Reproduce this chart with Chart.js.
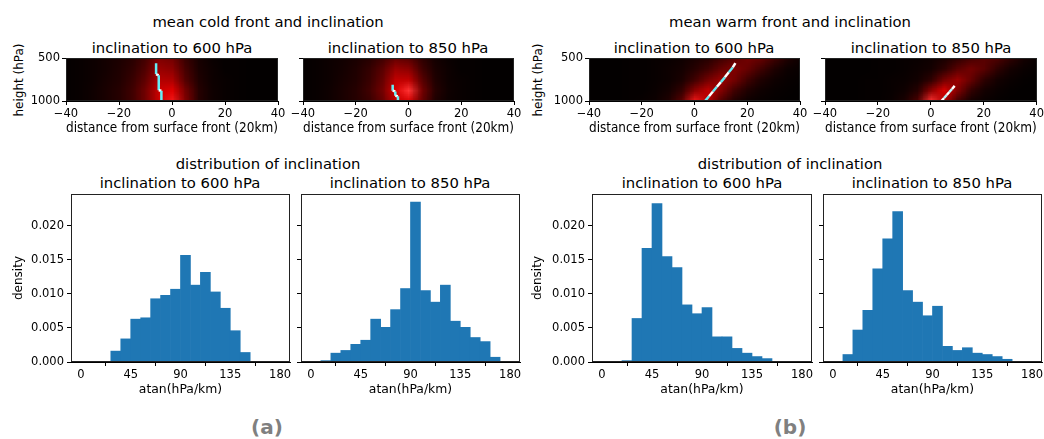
<!DOCTYPE html>
<html>
<head>
<meta charset="utf-8">
<script src="https://cdn.jsdelivr.net/npm/chart.js@4.4.0/dist/chart.umd.min.js"></script>
<style>
html, body { margin: 0; padding: 0; background: #fff; overflow: hidden; }
#fig { position: relative; width: 1044px; height: 439px; font-family: 'DejaVu Sans', sans-serif; color: #000; }
.t { position: absolute; white-space: nowrap; font-size: 14.8px; line-height: 1; transform: translate(-50%, -50%); }
.yl { position: absolute; white-space: nowrap; font-size: 12px; line-height: 1; transform: translate(-50%, -50%) rotate(-90deg); }
.lab { position: absolute; white-space: nowrap; font-size: 20px; font-weight: bold; color: #808080; line-height: 1; transform: translate(-50%, -50%); }
canvas { position: absolute; }
</style>
</head>
<body>
<div id="fig">
  <div class="t" style="left:268px;top:22px">mean cold front and inclination</div>
  <div class="t" style="left:790px;top:22px">mean warm front and inclination</div>
  <div class="t" style="left:172px;top:48px">inclination to 600 hPa</div>
  <div class="t" style="left:408px;top:48px">inclination to 850 hPa</div>
  <div class="t" style="left:694px;top:48px">inclination to 600 hPa</div>
  <div class="t" style="left:931px;top:48px">inclination to 850 hPa</div>
  <div class="yl" style="left:19px;top:80px">height (hPa)</div>
  <div class="yl" style="left:538px;top:80px">height (hPa)</div>
  <div class="t" style="left:268px;top:164px">distribution of inclination</div>
  <div class="t" style="left:790px;top:164px">distribution of inclination</div>
  <div class="t" style="left:180px;top:183px">inclination to 600 hPa</div>
  <div class="t" style="left:410px;top:183px">inclination to 850 hPa</div>
  <div class="t" style="left:702px;top:183px">inclination to 600 hPa</div>
  <div class="t" style="left:932px;top:183px">inclination to 850 hPa</div>
  <div class="lab" style="left:267px;top:427px">(a)</div>
  <div class="lab" style="left:790px;top:427px">(b)</div>
</div>
<script>
// histogram bins (atan(hPa/km), bin width 9 deg)
const binCenters = [4.5, 13.5, 22.5, 31.5, 40.5, 49.5, 58.5, 67.5, 76.5, 85.5,
                    94.5, 103.5, 112.5, 121.5, 130.5, 139.5, 148.5, 157.5, 166.5, 175.5];
const histTicks = [0, 45, 90, 135, 180];
const densTicks = [0, 0.005, 0.010, 0.015, 0.020];

const cold600 = [0.00005, 0.00005, 0.0001, 0.0016, 0.0034, 0.0063, 0.0065, 0.0093, 0.0098, 0.0107,
                 0.0157, 0.0113, 0.0132, 0.0103, 0.0079, 0.0046, 0.0014, 0.0001, 0.00005, 0.00005];
const cold850 = [0.00005, 0.0002, 0.0013, 0.0017, 0.0026, 0.0032, 0.0063, 0.0051, 0.0077, 0.0108,
                 0.0235, 0.0105, 0.0088, 0.0113, 0.0060, 0.0051, 0.0036, 0.0030, 0.0007, 0.00005];
const warm600 = [0, 0.00005, 0.0002, 0.0064, 0.0167, 0.0233, 0.0155, 0.0139, 0.0084, 0.0071,
                 0.0080, 0.0037, 0.0037, 0.0020, 0.0013, 0.0008, 0.0005, 0.0001, 0.00005, 0];
const warm850 = [0, 0.0011, 0.0047, 0.0076, 0.0137, 0.0181, 0.0221, 0.0105, 0.0088, 0.0068,
                 0.0082, 0.0023, 0.0017, 0.0021, 0.0013, 0.0011, 0.0008, 0.0004, 0.0001, 0];

// mean front composites: distance (20km) x height (hPa), relative intensity
const gridX = [-40, -35, -30, -25, -20, -15, -10, -5, 0, 5, 10, 15, 20, 25, 30, 35, 40];
const gridP = [500, 625, 750, 875, 1000];
const distTicks = [-40, -20, 0, 20, 40];
const hTicks = [500, 1000];

const coldMean600 = [
  [.02, .03, .05, .08, .11, .16, .27, .50, .45, .22, .09, .04, .02, .02, .01, .01, .01],
  [.02, .03, .05, .08, .12, .19, .32, .60, .55, .27, .10, .05, .02, .02, .01, .01, .01],
  [.02, .03, .05, .09, .13, .22, .38, .70, .68, .32, .12, .05, .03, .02, .01, .01, .01],
  [.02, .03, .06, .10, .15, .25, .45, .80, .88, .45, .15, .06, .03, .02, .01, .01, .01],
  [.02, .03, .06, .10, .15, .25, .45, .80, .95, .50, .15, .06, .03, .02, .01, .01, .01]];
const coldMean850 = [
  [.02, .03, .05, .07, .10, .15, .25, .40, .35, .18, .08, .04, .02, .02, .01, .01, .01],
  [.02, .03, .05, .08, .12, .20, .35, .60, .55, .25, .10, .05, .02, .02, .01, .01, .01],
  [.02, .03, .05, .09, .13, .22, .40, .75, .75, .35, .12, .05, .03, .02, .01, .01, .01],
  [.02, .03, .06, .10, .15, .25, .45, .85, 1.0, .45, .15, .06, .03, .02, .01, .01, .01],
  [.02, .03, .06, .10, .15, .22, .40, .75, .85, .40, .12, .05, .03, .02, .01, .01, .01]];
const warmMean600 = [
  [.01, .01, .01, .02, .02, .03, .04, .06, .10, .15, .25, .35, .45, .40, .25, .12, .05],
  [.01, .01, .01, .02, .02, .03, .05, .08, .15, .25, .40, .50, .40, .25, .12, .05, .03],
  [.01, .01, .01, .02, .02, .03, .05, .10, .25, .45, .60, .45, .25, .12, .06, .03, .02],
  [.01, .01, .01, .02, .02, .04, .08, .20, .55, .75, .50, .25, .12, .06, .03, .02, .01],
  [.01, .01, .01, .02, .03, .05, .12, .35, .95, .70, .30, .12, .05, .03, .02, .01, .01]];
const warmMean850 = [
  [.01, .01, .01, .01, .02, .02, .03, .04, .06, .10, .18, .28, .35, .30, .18, .08, .03],
  [.01, .01, .01, .01, .02, .02, .03, .05, .08, .18, .35, .45, .35, .18, .08, .04, .02],
  [.01, .01, .01, .02, .02, .03, .04, .07, .18, .45, .60, .40, .18, .08, .04, .02, .01],
  [.01, .01, .01, .02, .02, .03, .06, .15, .55, .85, .50, .20, .08, .04, .02, .01, .01],
  [.01, .01, .01, .02, .02, .04, .10, .30, 1.0, .65, .25, .08, .04, .02, .01, .01, .01]];

// fitted front lines
const coldLine600X = [-6, -6, -5, -5, -4, -4];
const coldLine600P = [560, 690, 700, 875, 880, 990];
const coldLine850X = [-6, -6, -5, -5, -4, -4];
const coldLine850P = [810, 880, 890, 940, 945, 1000];
const warmLine600X = [4, 5.5, 7, 8.5, 10, 11.5, 13, 14.5, 15.5];
const warmLine600P = [1000, 945, 890, 835, 780, 725, 665, 610, 560];
const warmLine850X = [4, 5, 6, 7, 8, 9];
const warmLine850P = [1000, 965, 930, 895, 860, 825];

Chart.defaults.font.family = "'DejaVu Sans', sans-serif";
Chart.defaults.color = '#000';

const heatPlugin = {
  id: 'heat',
  beforeDatasetsDraw(chart, args, opts) {
    const grid = opts.grid;
    if (!grid) return;
    const nx = gridX.length, ny = gridP.length;
    const off = document.createElement('canvas');
    off.width = nx; off.height = ny;
    const octx = off.getContext('2d');
    const img = octx.createImageData(nx, ny);
    for (let j = 0; j < ny; j++) {
      for (let i = 0; i < nx; i++) {
        const v = grid[j][i], k = 4 * (j * nx + i);
        img.data[k] = Math.round(255 * Math.min(1, v));
        img.data[k + 1] = img.data[k + 2] = Math.round(255 * Math.max(0, v - 0.9) * 2);
        img.data[k + 3] = 255;
      }
    }
    octx.putImageData(img, 0, 0);
    const {ctx, chartArea: a, scales: {x, y}} = chart;
    const dx = (gridX[1] - gridX[0]) / 2, dp = (gridP[1] - gridP[0]) / 2;
    const x0 = x.getPixelForValue(gridX[0] - dx), x1 = x.getPixelForValue(gridX[nx - 1] + dx);
    const y0 = y.getPixelForValue(gridP[0] - dp), y1 = y.getPixelForValue(gridP[ny - 1] + dp);
    ctx.save();
    ctx.beginPath();
    ctx.rect(a.left, a.top, a.right - a.left, a.bottom - a.top);
    ctx.clip();
    ctx.imageSmoothingEnabled = true;
    ctx.drawImage(off, x0, y0, x1 - x0, y1 - y0);
    ctx.restore();
  }
};

const framePlugin = {
  id: 'frame',
  afterDatasetsDraw(chart) {
    const {ctx, chartArea: a} = chart;
    ctx.save();
    ctx.strokeStyle = '#222';
    ctx.lineWidth = 1;
    const l = Math.round(a.left) + 0.5, t = Math.round(a.top) + 0.5;
    const r = Math.round(a.right) - 0.5, b = Math.round(a.bottom) - 0.5;
    ctx.strokeRect(l, t, r - l, b - t);
    ctx.restore();
  }
};

function makeCanvas(p) {
  const c = document.createElement('canvas');
  c.width = Math.round(p.pl + p.yw + (p.r - p.l) + p.pr);
  c.height = Math.round(p.pt + (p.b - p.t) + p.xh);
  c.style.left = Math.round(p.l - p.yw - p.pl) + 'px';
  c.style.top = Math.round(p.t - p.pt) + 'px';
  document.getElementById('fig').appendChild(c);
  return c;
}

function axisGrid() {
  return {drawOnChartArea: false, drawTicks: true, tickLength: 4, color: '#000'};
}

function heatChart(p, grid, lx, lp, colA, colB) {
  const pts = lx.map((v, i) => ({x: v, y: lp[i]}));
  new Chart(makeCanvas(p), {
    type: 'scatter',
    data: {datasets: [{
      data: pts, showLine: true, pointRadius: 0, borderWidth: 2.5,
      borderColor: colA,
      segment: {borderColor: c => (c.p0DataIndex % 2 ? colB : colA)}
    }]},
    options: {
      responsive: false, animation: false, events: [],
      layout: {padding: {left: p.pl, top: p.pt, right: p.pr, bottom: 0}},
      plugins: {legend: {display: false}, tooltip: {enabled: false}, heat: {grid: grid}},
      scales: {
        x: {
          type: 'linear', min: -40, max: 40,
          afterBuildTicks: s => { s.ticks = distTicks.map(v => ({value: v})); },
          afterFit: s => { s.height = p.xh; },
          ticks: {font: {size: 11.5}, padding: 2, maxRotation: 0, autoSkip: false,
                  callback: v => (v < 0 ? '\u2212' + Math.abs(v) : String(v))},
          grid: axisGrid(), border: {color: '#000'},
          title: {display: true, text: 'distance from surface front (20km)', font: {size: 13.3}, padding: {top: 0, bottom: 4}}
        },
        y: {
          type: 'linear', min: 500, max: 1000, reverse: true,
          afterBuildTicks: s => { s.ticks = hTicks.map(v => ({value: v})); },
          afterFit: s => { s.width = p.yw; },
          ticks: {font: {size: 11.5}, padding: 2, callback: v => (p.yLabels ? String(v) : '')},
          grid: axisGrid(), border: {color: '#000'}
        }
      }
    },
    plugins: [heatPlugin, framePlugin]
  });
}

function histChart(p, vals) {
  new Chart(makeCanvas(p), {
    type: 'bar',
    data: {datasets: [{
      data: binCenters.map((c, i) => ({x: c, y: vals[i]})),
      backgroundColor: '#1f77b4', borderWidth: 0,
      barPercentage: 1, categoryPercentage: 1
    }]},
    options: {
      responsive: false, animation: false, events: [],
      layout: {padding: {left: p.pl, top: p.pt, right: p.pr, bottom: 0}},
      plugins: {legend: {display: false}, tooltip: {enabled: false}},
      scales: {
        x: {
          type: 'linear', min: -9, max: 189, offset: false,
          afterBuildTicks: s => { s.ticks = histTicks.map(v => ({value: v})); },
          afterFit: s => { s.height = p.xh; },
          ticks: {font: {size: 11.5}, padding: 2, maxRotation: 0, autoSkip: false},
          grid: axisGrid(), border: {color: '#000'},
          title: {display: true, text: 'atan(hPa/km)', font: {size: 12.4}, padding: {top: 0, bottom: 4}}
        },
        y: {
          type: 'linear', min: 0, max: 0.0247,
          afterBuildTicks: s => { s.ticks = densTicks.map(v => ({value: v})); },
          afterFit: s => { s.width = p.yw; },
          ticks: {font: {size: 11.5}, padding: 3, callback: v => (p.yLabels ? v.toFixed(3) : '')},
          grid: axisGrid(), border: {color: '#000'},
          title: {display: p.yLabels, text: 'density', font: {size: 12}, padding: {top: 4, bottom: 0}}
        }
      }
    },
    plugins: [framePlugin]
  });
}

// top row: mean fronts
heatChart({l: 66, t: 58, r: 278, b: 101, pl: 8, yw: 58, pt: 20, pr: 14, xh: 40, yLabels: true},
          coldMean600, coldLine600X, coldLine600P, '#66eef5', '#ffffff');
heatChart({l: 303, t: 58, r: 514, b: 101, pl: 0, yw: 20, pt: 20, pr: 14, xh: 40, yLabels: false},
          coldMean850, coldLine850X, coldLine850P, '#66eef5', '#ffffff');
heatChart({l: 589, t: 58, r: 800, b: 101, pl: 8, yw: 63, pt: 20, pr: 14, xh: 40, yLabels: true},
          warmMean600, warmLine600X, warmLine600P, '#66eef5', '#ffffff');
heatChart({l: 825, t: 58, r: 1037, b: 101, pl: 0, yw: 20, pt: 20, pr: 9, xh: 40, yLabels: false},
          warmMean850, warmLine850X, warmLine850P, '#ffffff', '#b8f4f8');

// bottom row: distributions
histChart({l: 71, t: 194, r: 290, b: 362, pl: 8, yw: 63, pt: 10, pr: 14, xh: 39, yLabels: true}, cold600);
histChart({l: 301, t: 194, r: 520, b: 362, pl: 0, yw: 20, pt: 10, pr: 14, xh: 39, yLabels: false}, cold850);
histChart({l: 592, t: 194, r: 812, b: 362, pl: 8, yw: 65, pt: 10, pr: 14, xh: 39, yLabels: true}, warm600);
histChart({l: 823, t: 194, r: 1042, b: 362, pl: 0, yw: 20, pt: 10, pr: 14, xh: 39, yLabels: false}, warm850);
</script>
</body>
</html>
